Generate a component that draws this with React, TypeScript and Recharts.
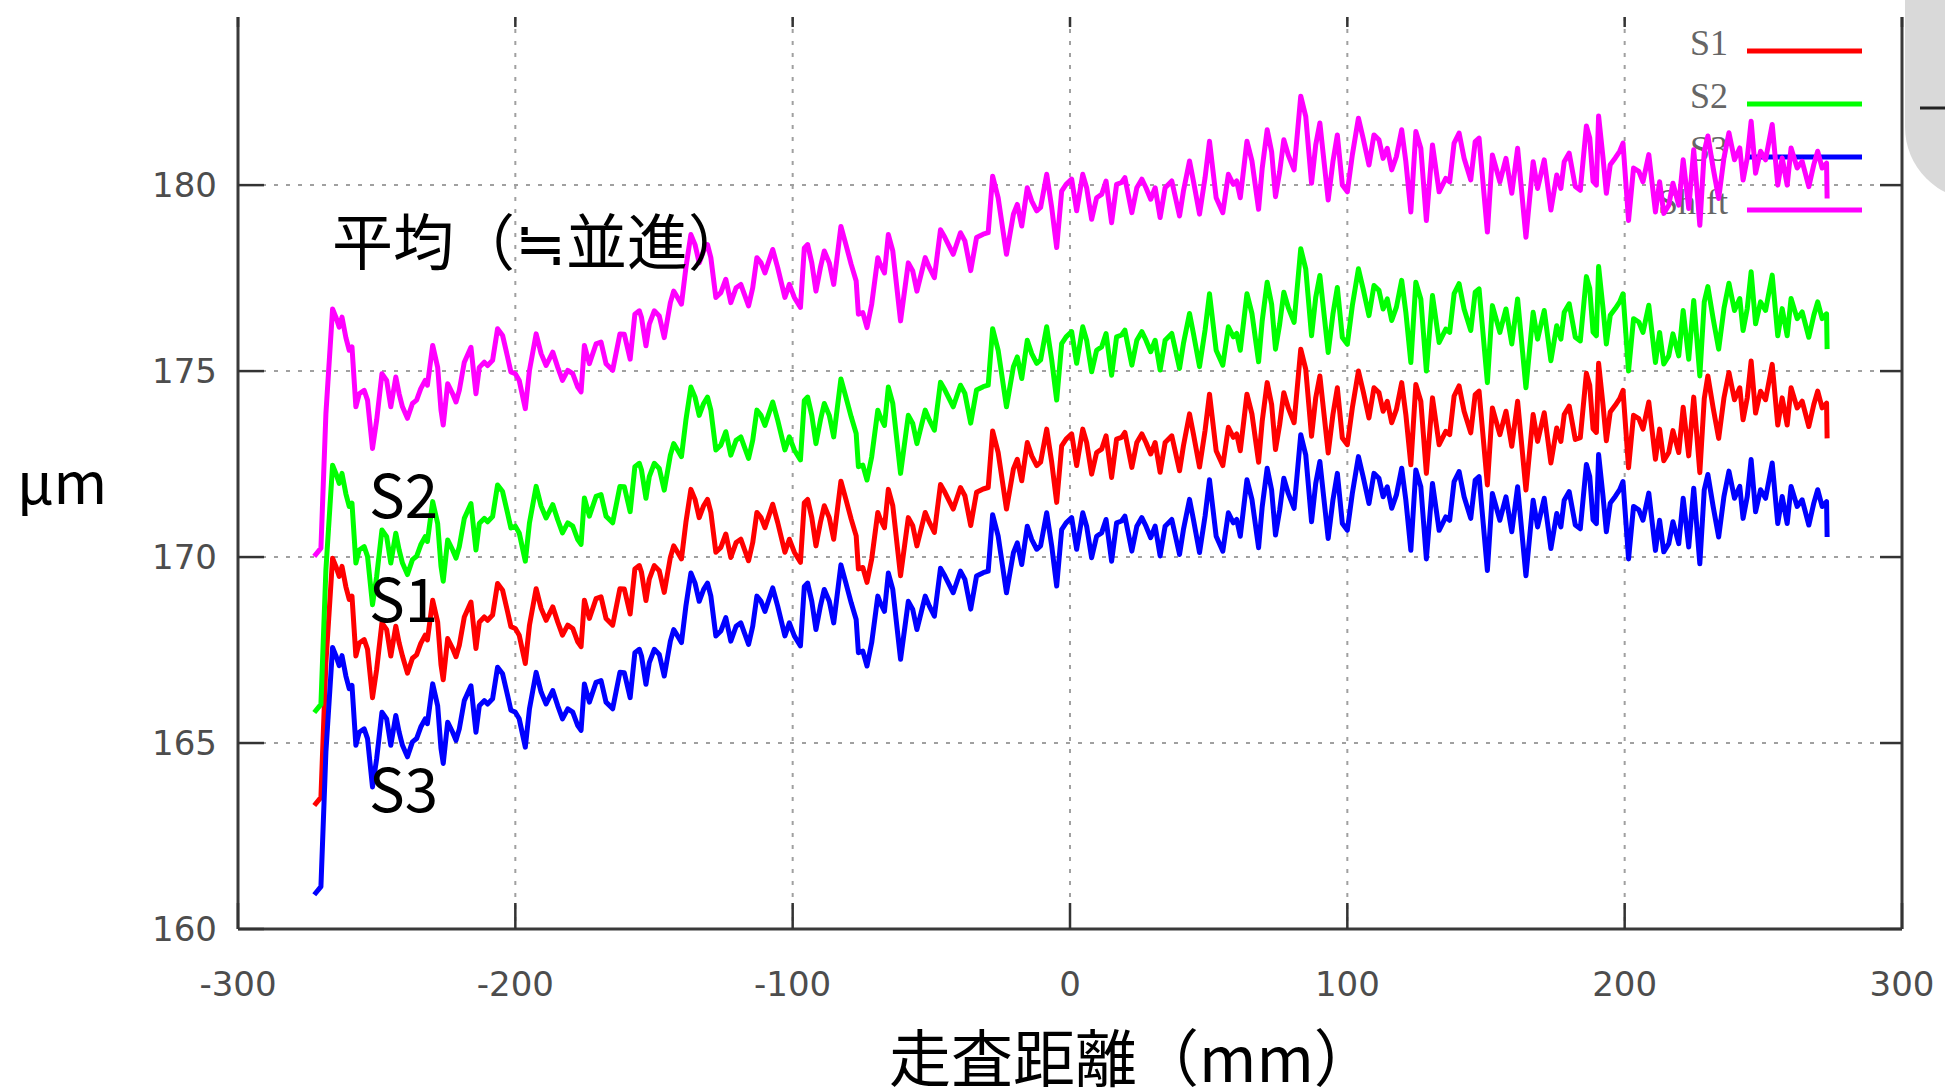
import React from "react";
import { LineChart, Line, XAxis, YAxis, CartesianGrid } from "recharts";

// scan position (mm)
const xMm = [
  -272.5, -270.1, -268.3, -265.9, -264.7, -263.5, -262.5, -261.1, -259.9, -258.9,
  -257.5, -256.3, -254.5, -253.3, -251.5, -250.0, -248.1, -246.4, -244.9, -243.1,
  -241.9, -240.7, -238.9, -237.1, -235.6, -234.1, -232.5, -231.7, -229.8, -228.0,
  -226.8, -226.0, -224.4, -222.6, -221.4, -220.2, -218.4, -216.0, -214.2, -213.0,
  -211.2, -210.0, -208.2, -206.4, -204.6, -202.8, -201.6, -200.0, -198.6, -196.4,
  -194.9, -192.5, -190.7, -188.9, -186.5, -184.7, -183.0, -181.1, -179.3, -177.5,
  -176.3, -175.1, -173.3, -170.9, -169.1, -167.3, -164.9, -162.3, -160.7, -158.6,
  -156.9, -155.3, -154.5, -152.9, -151.7, -149.9, -148.1, -146.3, -144.1, -142.9,
  -141.5, -140.1, -138.5, -136.7, -135.2, -133.7, -132.1, -130.7, -129.5, -127.7,
  -125.9, -124.1, -122.3, -120.4, -118.7, -117.4, -115.9, -114.4, -112.9, -111.4,
  -110.0, -107.2, -105.4, -102.8, -101.2, -99.4, -97.2, -95.8, -94.6, -93.1,
  -91.6, -90.0, -88.6, -86.8, -85.2, -82.6, -80.8, -78.9, -77.1, -76.3,
  -74.7, -73.2, -71.5, -69.3, -68.4, -66.9, -65.5, -63.9, -61.1, -58.3,
  -56.7, -55.2, -52.2, -50.7, -48.9, -46.7, -45.1, -42.1, -39.5, -37.9,
  -35.8, -33.7, -31.3, -29.5, -27.9, -25.9, -22.9, -20.4, -19.0, -17.4,
  -15.4, -13.8, -12.0, -10.6, -8.4, -6.6, -4.8, -3.0, -1.4, 0.6,
  2.4, 4.6, 6.0, 7.8, 9.6, 11.4, 13.0, 15.0, 16.8, 18.6,
  19.8, 22.3, 24.1, 25.9, 27.4, 29.1, 30.7, 32.5, 34.3, 36.7,
  39.5, 40.9, 43.1, 44.5, 46.7, 48.7, 50.3, 52.7, 55.1, 57.1,
  58.9, 60.1, 61.4, 63.8, 65.6, 68.0, 69.3, 71.1, 72.7, 74.1,
  75.6, 77.1, 78.7, 80.8, 83.2, 85.0, 87.1, 88.6, 90.1, 91.6,
  93.1, 94.8, 96.4, 98.2, 100.0, 101.8, 104.0, 105.7, 107.8, 109.6,
  111.4, 112.9, 114.4, 116.0, 117.7, 119.6, 121.1, 122.9, 124.7, 126.5,
  128.5, 130.7, 133.1, 135.5, 136.9, 138.5, 140.3, 142.1, 144.5, 146.1,
  147.5, 150.5, 152.3, 155.0, 157.2, 159.3, 161.4, 164.4, 167.0, 168.6,
  171.0, 173.4, 175.5, 177.0, 178.2, 180.0, 182.2, 184.0, 186.2, 187.4,
  188.6, 189.8, 190.6, 192.2, 193.4, 194.8, 196.6, 198.2, 199.4, 201.4,
  203.2, 205.1, 206.6, 208.7, 211.1, 212.6, 214.1, 215.9, 217.4, 219.5,
  221.1, 223.1, 224.9, 227.1, 228.7, 230.0, 231.9, 233.9, 235.8, 237.6,
  239.6, 241.5, 242.7, 244.2, 245.6, 247.2, 249.0, 250.8, 253.2, 255.2,
  256.8, 258.6, 260.0, 262.2, 264.0, 266.4, 268.2, 269.6, 271.2, 272.8, 273.0,
];

// S1 (red)
const s1 = [
  163.32, 163.54, 167.16, 169.97, 169.75, 169.48, 169.75, 169.2, 168.86, 168.95,
  167.34, 167.69, 167.78, 167.52, 166.22, 166.98, 168.23, 168.05, 167.34, 168.14,
  167.69, 167.34, 166.88, 167.28, 167.37, 167.68, 167.9, 167.77, 168.84, 168.25,
  167.1, 166.7, 167.81, 167.54, 167.32, 167.63, 168.39, 168.79, 167.54, 168.25,
  168.39, 168.3, 168.44, 169.29, 169.11, 168.53, 168.13, 168.08, 167.9, 167.14,
  168.17, 169.15, 168.62, 168.3, 168.66, 168.25, 167.9, 168.17, 168.08, 167.72,
  167.59, 168.84, 168.35, 168.88, 168.93, 168.35, 168.17, 169.15, 169.14, 168.47,
  169.68, 169.77, 169.59, 168.83, 169.41, 169.77, 169.63, 169.05, 169.99, 170.3,
  170.13, 169.95, 170.93, 171.82, 171.55, 171.06, 171.38, 171.55, 171.2, 170.13,
  170.26, 170.62, 169.99, 170.39, 170.48, 170.21, 169.9, 170.39, 171.2, 171.06,
  170.79, 171.42, 170.93, 170.13, 170.48, 170.13, 169.86, 171.46, 171.55, 171.06,
  170.3, 170.93, 171.38, 171.06, 170.48, 172.04, 171.55, 171.02, 170.57, 169.68,
  169.72, 169.32, 169.95, 171.2, 171.02, 170.79, 171.82, 171.38, 169.5, 171.06,
  170.84, 170.3, 171.2, 170.93, 170.66, 171.95, 171.74, 171.29, 171.87, 171.65,
  170.85, 171.74, 171.83, 171.87, 173.39, 172.81, 171.29, 172.37, 172.63, 172.05,
  173.08, 172.72, 172.46, 172.55, 173.44, 172.55, 171.47, 172.99, 173.17, 173.31,
  172.46, 173.44, 173.08, 172.23, 172.81, 172.9, 173.26, 172.14, 173.17, 173.22,
  173.35, 172.41, 173.08, 173.31, 173.08, 172.77, 173.08, 172.28, 173.08, 173.26,
  172.32, 172.99, 173.85, 173.31, 172.42, 173.4, 174.38, 172.86, 172.46, 173.49,
  173.22, 173.31, 172.86, 174.38, 173.85, 172.55, 173.65, 174.69, 174.1, 172.89,
  173.56, 174.42, 174.01, 173.61, 175.59, 175.05, 173.25, 174.28, 174.87, 173.83,
  172.8, 173.83, 174.55, 173.2, 173.02, 174.01, 175.0, 174.46, 173.74, 174.55,
  174.42, 173.92, 174.19, 173.61, 173.97, 174.69, 173.83, 172.48, 174.64, 174.19,
  172.25, 174.28, 173.02, 173.38, 173.29, 174.33, 174.6, 173.92, 173.34, 174.37,
  174.46, 171.94, 174.01, 173.29, 173.92, 172.98, 174.19, 171.8, 173.83, 173.11,
  173.88, 172.53, 173.47, 173.11, 173.83, 174.06, 173.16, 173.21, 174.94, 174.62,
  173.45, 173.35, 175.21, 174.08, 173.13, 173.9, 174.08, 174.26, 174.48, 172.4,
  173.81, 173.72, 173.44, 174.17, 172.63, 173.44, 172.59, 172.81, 173.4, 172.81,
  174.03, 172.72, 174.3, 172.27, 174.26, 174.87, 174.01, 173.19, 174.28, 174.96,
  174.23, 174.55, 173.69, 174.28, 175.27, 173.87, 174.46, 174.23, 175.18, 173.55,
  174.28, 173.55, 174.55, 174.01, 174.19, 173.51, 174.1, 174.46, 174.01, 174.14, 173.19,
];

// S2 (green)
const s2 = [
  165.82, 166.04, 169.66, 172.47, 172.25, 171.98, 172.25, 171.7, 171.36, 171.45,
  169.84, 170.19, 170.28, 170.02, 168.72, 169.48, 170.73, 170.55, 169.84, 170.64,
  170.19, 169.84, 169.53, 169.93, 170.02, 170.33, 170.55, 170.42, 171.49, 170.9,
  169.75, 169.35, 170.46, 170.19, 169.97, 170.28, 171.04, 171.44, 170.19, 170.9,
  171.04, 170.95, 171.09, 171.94, 171.76, 171.18, 170.78, 170.83, 170.65, 169.89,
  170.92, 171.9, 171.37, 171.05, 171.41, 171.0, 170.65, 170.92, 170.83, 170.47,
  170.34, 171.59, 171.1, 171.63, 171.68, 171.1, 170.92, 171.9, 171.89, 171.22,
  172.43, 172.52, 172.34, 171.58, 172.16, 172.52, 172.38, 171.8, 172.74, 173.05,
  172.88, 172.7, 173.68, 174.57, 174.3, 173.81, 174.13, 174.3, 173.95, 172.88,
  173.01, 173.37, 172.74, 173.14, 173.23, 172.96, 172.65, 173.14, 173.95, 173.81,
  173.54, 174.17, 173.68, 172.88, 173.23, 172.88, 172.61, 174.21, 174.3, 173.81,
  173.05, 173.68, 174.13, 173.81, 173.23, 174.79, 174.3, 173.77, 173.32, 172.43,
  172.47, 172.07, 172.7, 173.95, 173.77, 173.54, 174.57, 174.13, 172.25, 173.81,
  173.59, 173.05, 173.95, 173.68, 173.41, 174.7, 174.49, 174.04, 174.62, 174.4,
  173.6, 174.49, 174.58, 174.62, 176.14, 175.56, 174.04, 175.12, 175.38, 174.8,
  175.83, 175.47, 175.21, 175.3, 176.19, 175.3, 174.22, 175.74, 175.92, 176.06,
  175.21, 176.19, 175.83, 174.98, 175.56, 175.65, 176.01, 174.89, 175.92, 175.97,
  176.1, 175.16, 175.83, 176.06, 175.83, 175.52, 175.83, 175.03, 175.83, 176.01,
  175.07, 175.74, 176.55, 176.01, 175.12, 176.1, 177.08, 175.56, 175.16, 176.19,
  175.92, 176.01, 175.56, 177.08, 176.55, 175.25, 176.35, 177.39, 176.8, 175.59,
  176.26, 177.12, 176.71, 176.31, 178.29, 177.75, 175.95, 176.98, 177.57, 176.53,
  175.5, 176.53, 177.25, 175.9, 175.72, 176.76, 177.75, 177.21, 176.49, 177.3,
  177.17, 176.67, 176.94, 176.36, 176.72, 177.44, 176.58, 175.23, 177.39, 176.94,
  175.0, 177.03, 175.77, 176.13, 176.04, 177.08, 177.35, 176.67, 176.09, 177.12,
  177.21, 174.69, 176.76, 176.04, 176.67, 175.73, 176.94, 174.55, 176.58, 175.86,
  176.63, 175.28, 176.22, 175.86, 176.58, 176.81, 175.91, 175.81, 177.54, 177.22,
  176.05, 175.95, 177.81, 176.68, 175.73, 176.5, 176.68, 176.86, 177.08, 175.0,
  176.41, 176.32, 176.04, 176.77, 175.23, 176.04, 175.19, 175.41, 176.0, 175.41,
  176.63, 175.32, 176.9, 174.87, 176.86, 177.27, 176.41, 175.59, 176.68, 177.36,
  176.63, 176.95, 176.09, 176.68, 177.67, 176.27, 176.86, 176.63, 177.58, 175.95,
  176.68, 175.95, 176.95, 176.41, 176.59, 175.91, 176.5, 176.86, 176.41, 176.54, 175.59,
];

// S3 (blue)
const s3 = [
  160.92, 161.14, 164.76, 167.57, 167.35, 167.08, 167.35, 166.8, 166.46, 166.55,
  164.94, 165.29, 165.38, 165.12, 163.82, 164.58, 165.83, 165.65, 164.94, 165.74,
  165.29, 164.94, 164.63, 165.03, 165.12, 165.43, 165.65, 165.52, 166.59, 166.0,
  164.85, 164.45, 165.56, 165.29, 165.07, 165.38, 166.14, 166.54, 165.29, 166.0,
  166.14, 166.05, 166.19, 167.04, 166.86, 166.28, 165.88, 165.83, 165.65, 164.89,
  165.92, 166.9, 166.37, 166.05, 166.41, 166.0, 165.65, 165.92, 165.83, 165.47,
  165.34, 166.59, 166.1, 166.63, 166.68, 166.1, 165.92, 166.9, 166.89, 166.22,
  167.43, 167.52, 167.34, 166.58, 167.16, 167.52, 167.38, 166.8, 167.74, 168.05,
  167.88, 167.7, 168.68, 169.57, 169.3, 168.81, 169.13, 169.3, 168.95, 167.88,
  168.01, 168.37, 167.74, 168.14, 168.23, 167.96, 167.65, 168.14, 168.95, 168.81,
  168.54, 169.17, 168.68, 167.88, 168.23, 167.88, 167.61, 169.21, 169.3, 168.81,
  168.05, 168.68, 169.13, 168.81, 168.23, 169.79, 169.3, 168.77, 168.32, 167.43,
  167.47, 167.07, 167.7, 168.95, 168.77, 168.54, 169.57, 169.13, 167.25, 168.81,
  168.59, 168.05, 168.95, 168.68, 168.41, 169.7, 169.49, 169.04, 169.62, 169.4,
  168.6, 169.49, 169.58, 169.62, 171.14, 170.56, 169.04, 170.12, 170.38, 169.8,
  170.83, 170.47, 170.21, 170.3, 171.19, 170.3, 169.22, 170.74, 170.92, 171.06,
  170.21, 171.19, 170.83, 169.98, 170.56, 170.65, 171.01, 169.89, 170.92, 170.97,
  171.1, 170.16, 170.83, 171.06, 170.83, 170.52, 170.83, 170.03, 170.83, 171.01,
  170.07, 170.74, 171.55, 171.01, 170.12, 171.1, 172.08, 170.56, 170.16, 171.19,
  170.92, 171.01, 170.56, 172.08, 171.55, 170.25, 171.35, 172.39, 171.8, 170.59,
  171.26, 172.12, 171.71, 171.31, 173.29, 172.75, 170.95, 171.98, 172.57, 171.53,
  170.5, 171.53, 172.25, 170.9, 170.72, 171.71, 172.7, 172.16, 171.44, 172.25,
  172.12, 171.62, 171.89, 171.31, 171.67, 172.39, 171.53, 170.18, 172.34, 171.89,
  169.95, 171.98, 170.72, 171.08, 170.99, 172.03, 172.3, 171.62, 171.04, 172.07,
  172.16, 169.64, 171.71, 170.99, 171.62, 170.68, 171.89, 169.5, 171.53, 170.81,
  171.58, 170.23, 171.17, 170.81, 171.53, 171.76, 170.86, 170.76, 172.49, 172.17,
  171.0, 170.9, 172.76, 171.63, 170.68, 171.45, 171.63, 171.81, 172.03, 169.95,
  171.36, 171.27, 170.99, 171.72, 170.18, 170.99, 170.14, 170.36, 170.95, 170.36,
  171.58, 170.27, 171.85, 169.82, 171.81, 172.22, 171.36, 170.54, 171.63, 172.31,
  171.58, 171.9, 171.04, 171.63, 172.62, 171.22, 171.81, 171.58, 172.53, 170.9,
  171.63, 170.9, 171.9, 171.36, 171.54, 170.86, 171.45, 171.81, 171.36, 171.49, 170.54,
];

// Shift (magenta, average curve)
const shift = [
  170.02, 170.24, 173.86, 176.67, 176.45, 176.18, 176.45, 175.9, 175.56, 175.65,
  174.04, 174.39, 174.48, 174.22, 172.92, 173.68, 174.93, 174.75, 174.04, 174.84,
  174.39, 174.04, 173.73, 174.13, 174.22, 174.53, 174.75, 174.62, 175.69, 175.1,
  173.95, 173.55, 174.66, 174.39, 174.17, 174.48, 175.24, 175.64, 174.39, 175.1,
  175.24, 175.15, 175.29, 176.14, 175.96, 175.38, 174.98, 174.93, 174.75, 173.99,
  175.02, 176.0, 175.47, 175.15, 175.51, 175.1, 174.75, 175.02, 174.93, 174.57,
  174.44, 175.69, 175.2, 175.73, 175.78, 175.2, 175.02, 176.0, 175.99, 175.32,
  176.53, 176.62, 176.44, 175.68, 176.26, 176.62, 176.48, 175.9, 176.84, 177.15,
  176.98, 176.8, 177.78, 178.67, 178.4, 177.91, 178.23, 178.4, 178.05, 176.98,
  177.11, 177.47, 176.84, 177.24, 177.33, 177.06, 176.75, 177.24, 178.05, 177.91,
  177.64, 178.27, 177.78, 176.98, 177.33, 176.98, 176.71, 178.31, 178.4, 177.91,
  177.15, 177.78, 178.23, 177.91, 177.33, 178.89, 178.4, 177.87, 177.42, 176.53,
  176.57, 176.17, 176.8, 178.05, 177.87, 177.64, 178.67, 178.23, 176.35, 177.91,
  177.69, 177.15, 178.05, 177.78, 177.51, 178.8, 178.59, 178.14, 178.72, 178.5,
  177.7, 178.59, 178.68, 178.72, 180.24, 179.66, 178.14, 179.22, 179.48, 178.9,
  179.93, 179.57, 179.31, 179.4, 180.29, 179.4, 178.32, 179.84, 180.02, 180.16,
  179.31, 180.29, 179.93, 179.08, 179.66, 179.75, 180.11, 178.99, 180.02, 180.07,
  180.2, 179.26, 179.93, 180.16, 179.93, 179.62, 179.93, 179.13, 179.93, 180.11,
  179.17, 179.84, 180.65, 180.11, 179.22, 180.2, 181.18, 179.66, 179.26, 180.29,
  180.02, 180.11, 179.66, 181.18, 180.65, 179.35, 180.45, 181.49, 180.9, 179.69,
  180.36, 181.22, 180.81, 180.41, 182.39, 181.85, 180.05, 181.08, 181.67, 180.63,
  179.6, 180.63, 181.35, 180.0, 179.82, 180.81, 181.8, 181.26, 180.54, 181.35,
  181.22, 180.72, 180.99, 180.41, 180.77, 181.49, 180.63, 179.28, 181.44, 180.99,
  179.05, 181.08, 179.82, 180.18, 180.09, 181.13, 181.4, 180.72, 180.14, 181.17,
  181.26, 178.74, 180.81, 180.09, 180.72, 179.78, 180.99, 178.6, 180.63, 179.91,
  180.68, 179.33, 180.27, 179.91, 180.63, 180.86, 179.96, 179.86, 181.59, 181.27,
  180.1, 180.0, 181.86, 180.73, 179.78, 180.55, 180.73, 180.91, 181.13, 179.05,
  180.46, 180.37, 180.09, 180.82, 179.28, 180.09, 179.24, 179.46, 180.05, 179.46,
  180.68, 179.37, 180.95, 178.92, 180.91, 181.32, 180.46, 179.64, 180.73, 181.41,
  180.68, 181.0, 180.14, 180.73, 181.72, 180.32, 180.91, 180.68, 181.63, 180.0,
  180.73, 180.0, 181.0, 180.46, 180.64, 179.96, 180.55, 180.91, 180.46, 180.59, 179.64,
];

const xTicks = [-300, -200, -100, 0, 100, 200, 300];
const yTicks = [160, 165, 170, 175, 180];
const xGrid = [-200, -100, 0, 100, 200];
const yGrid = [165, 170, 175, 180];

const legendItems = [
  { name: "S1", color: "#ff0000" },
  { name: "S2", color: "#00ff00" },
  { name: "S3", color: "#0000ff" },
  { name: "Shift", color: "#ff00ff" },
];

const rows = xMm.map((x, i) => ({
  x,
  s1: s1[i],
  s2: s2[i],
  s3: s3[i],
  shift: shift[i],
}));

const tickFont = { fontFamily: "DejaVu Sans", fontSize: 34, fill: "#4d4d4d" };
const jpFont = "'Noto Sans CJK JP', 'Noto Sans', sans-serif";

function BottomTick({ x, y, payload }: any) {
  return (
    <g>
      <line x1={x} x2={x} y1={y} y2={y - 26} stroke="#333" strokeWidth={2.5} />
      <text x={x} y={y + 55} textAnchor="middle" dominantBaseline="central" {...tickFont}>
        {payload.value}
      </text>
    </g>
  );
}

function LeftTick({ x, y, payload }: any) {
  return (
    <g>
      <line x1={x} x2={x + 26} y1={y} y2={y} stroke="#333" strokeWidth={2.5} />
      <text x={x - 21} y={y} textAnchor="end" dominantBaseline="central" {...tickFont}>
        {payload.value}
      </text>
    </g>
  );
}

function RightTick({ x, y }: any) {
  return <line x1={x} x2={x - 22} y1={y} y2={y} stroke="#333" strokeWidth={2.5} />;
}

function TopTick({ x, y }: any) {
  return <line x1={x} x2={x} y1={y} y2={y + 10} stroke="#333" strokeWidth={2.5} />;
}

export default function App() {
  return (
    <div
      style={{
        position: "absolute",
        left: 0,
        top: 0,
        width: 1945,
        height: 1091,
        overflow: "hidden",
        background: "#fff",
      }}
    >
      {/* legend sits under the curves */}
      <svg width={1945} height={1091} style={{ position: "absolute", left: 0, top: 0 }}>
        {legendItems.map((d, i) => (
          <g key={d.name}>
            <text
              x={1728}
              y={55 + i * 53}
              textAnchor="end"
              fontFamily="'Liberation Serif', serif"
              fontSize={36}
              fill="#666"
            >
              {d.name}
            </text>
            <line x1={1747} x2={1862} y1={51 + i * 53} y2={51 + i * 53} stroke={d.color} strokeWidth={5} />
          </g>
        ))}
      </svg>

      <div style={{ position: "absolute", left: 0, top: 0 }}>
        <LineChart
          width={1945}
          height={1091}
          data={rows}
          margin={{ top: 0, right: 0, bottom: 0, left: 0 }}
        >
          <CartesianGrid
            stroke="#a0a0a0"
            strokeWidth={2}
            strokeDasharray="4 8"
            horizontalValues={yGrid}
            verticalValues={xGrid}
          />
          <XAxis
            dataKey="x"
            type="number"
            domain={[-300, 300]}
            ticks={xTicks}
            interval={0}
            allowDataOverflow
            height={162}
            tickSize={0}
            tickMargin={0}
            tickLine={false}
            axisLine={{ stroke: "#3a3a3a", strokeWidth: 3 }}
            tick={BottomTick}
          />
          <XAxis
            xAxisId="top"
            orientation="top"
            dataKey="x"
            type="number"
            domain={[-300, 300]}
            ticks={xTicks}
            interval={0}
            allowDataOverflow
            height={17}
            tickSize={0}
            tickMargin={0}
            tickLine={false}
            axisLine={false}
            tick={TopTick}
          />
          <YAxis
            type="number"
            domain={[160, 184.52]}
            ticks={yTicks}
            interval={0}
            allowDataOverflow
            width={238}
            tickSize={0}
            tickMargin={0}
            tickLine={false}
            axisLine={{ stroke: "#3a3a3a", strokeWidth: 3 }}
            tick={LeftTick}
          />
          <YAxis
            yAxisId="right"
            orientation="right"
            type="number"
            domain={[160, 184.52]}
            ticks={yTicks}
            interval={0}
            allowDataOverflow
            width={43}
            tickSize={0}
            tickMargin={0}
            tickLine={false}
            axisLine={{ stroke: "#3a3a3a", strokeWidth: 3 }}
            tick={RightTick}
          />
          <Line dataKey="s1" type="linear" stroke="#ff0000" strokeWidth={5} strokeLinejoin="round" dot={false} isAnimationActive={false} />
          <Line dataKey="s2" type="linear" stroke="#00ff00" strokeWidth={5} strokeLinejoin="round" dot={false} isAnimationActive={false} />
          <Line dataKey="s3" type="linear" stroke="#0000ff" strokeWidth={5} strokeLinejoin="round" dot={false} isAnimationActive={false} />
          <Line dataKey="shift" type="linear" stroke="#ff00ff" strokeWidth={5} strokeLinejoin="round" dot={false} isAnimationActive={false} />
        </LineChart>
      </div>

      {/* slide annotations on top */}
      <svg
        width={1945}
        height={1091}
        style={{ position: "absolute", left: 0, top: 0, pointerEvents: "none" }}
      >
        <rect x={1905} y={-100} width={200} height={300} rx={73} fill="#d9d9d9" />
        <line x1={1920} x2={1945} y1={108} y2={108} stroke="#222" strokeWidth={3} />

        <text x={332} y={265} fontFamily={jpFont} fontSize={61} fill="#000">
          平均（≒並進）
        </text>
        <text x={369} y={518} fontFamily={jpFont} fontSize={60} fill="#000">S2</text>
        <text x={369} y={622} fontFamily={jpFont} fontSize={60} fill="#000">S1</text>
        <text x={369} y={812} fontFamily={jpFont} fontSize={60} fill="#000">S3</text>
        <text x={17} y={504} fontFamily={jpFont} fontSize={58} fill="#000">μm</text>
        <text x={889} y={1082} fontFamily={jpFont} fontSize={62} fill="#000">
          走査距離（mm）
        </text>
      </svg>
    </div>
  );
}
